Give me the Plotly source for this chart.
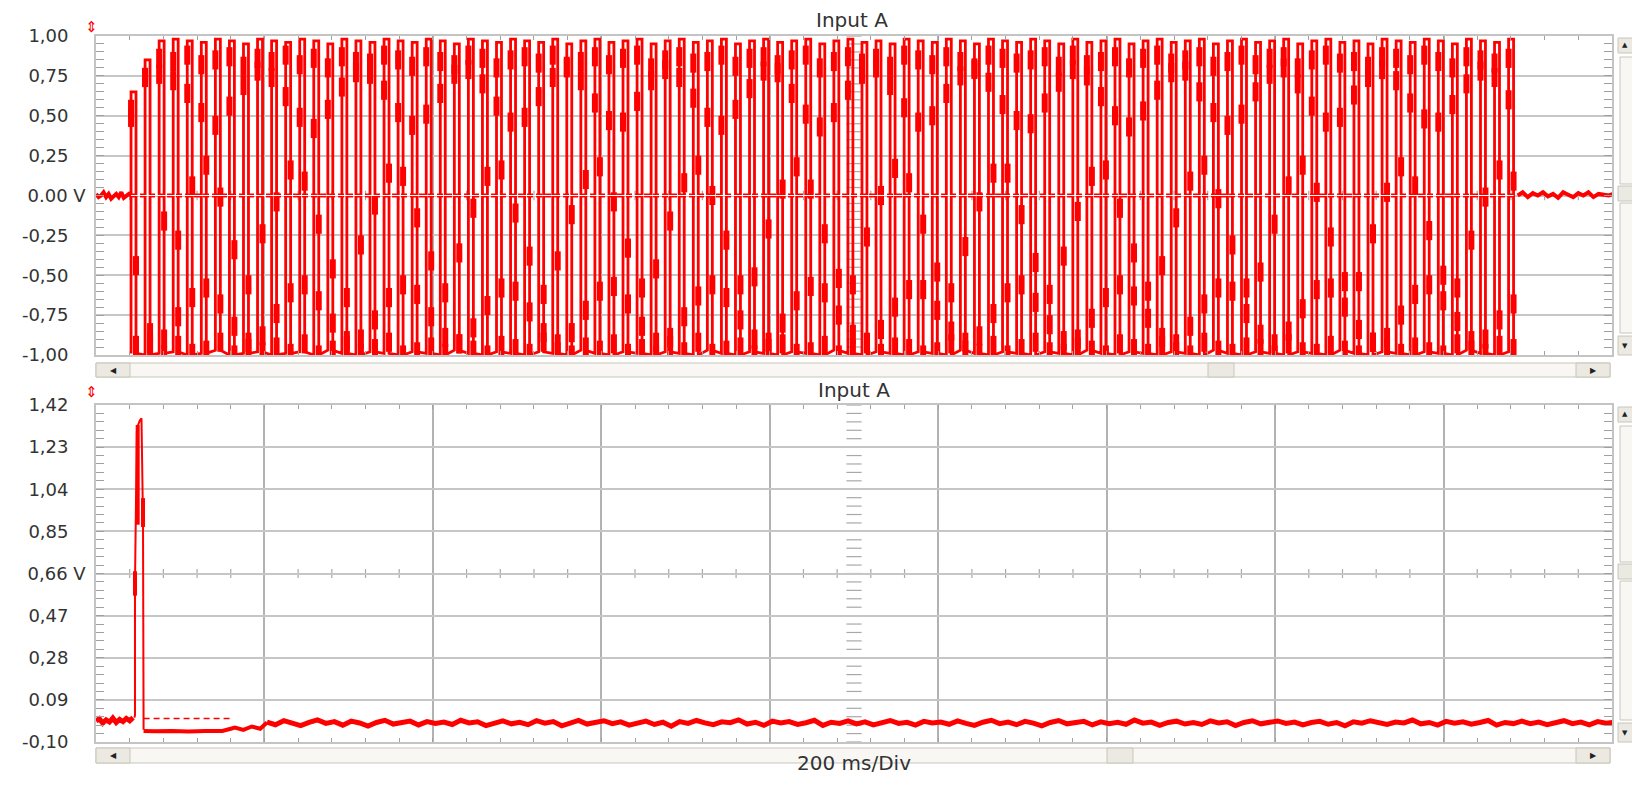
import plotly.graph_objects as go

# ---------------- data ----------------
# Top panel: burst of ~60 Hz cycles, time in ms
T_START = 41.6          # first cycle start (ms)
PERIOD = 16.69          # cycle length (ms)
HI_DWELL = 5.9          # ms between rising and falling edge of a cycle

top_peak = [0.65, 0.85, 0.97, 0.98, 0.97, 0.96, 0.98, 0.97, 0.95, 0.98,
            0.97, 0.96, 0.98, 0.97, 0.95, 0.98, 0.97, 0.96, 0.98, 0.97,
            0.96, 0.98, 0.97, 0.95, 0.98, 0.97, 0.96, 0.98, 0.97, 0.96,
            0.98, 0.95, 0.97, 0.98, 0.96, 0.97, 0.98, 0.95, 0.97, 0.98,
            0.96, 0.97, 0.98, 0.95, 0.97, 0.98, 0.96, 0.97, 0.98, 0.95,
            0.97, 0.98, 0.96, 0.97, 0.95, 0.98, 0.97, 0.96, 0.98, 0.97,
            0.95, 0.98, 0.97, 0.96, 0.98, 0.97, 0.95, 0.98, 0.96, 0.97,
            0.98, 0.95, 0.97, 0.98, 0.96, 0.97, 0.98, 0.95, 0.97, 0.98,
            0.96, 0.97, 0.98, 0.95, 0.97, 0.98, 0.96, 0.97, 0.95, 0.98,
            0.97, 0.96, 0.98, 0.97, 0.95, 0.98, 0.97, 0.96, 0.98]
bot_peak = [-0.99, -1.00, -0.99, -0.98, -1.00, -0.99, -0.97, -1.00, -0.99, -0.98,
            -1.00, -0.99, -0.98, -1.00, -0.97, -0.99, -1.00, -0.98, -0.99, -1.00,
            -0.98, -0.99, -1.00, -0.97, -0.99, -1.00, -0.98, -0.99, -1.00, -0.98,
            -0.99, -1.00, -0.97, -0.99, -1.00, -0.98, -0.99, -1.00, -0.98, -0.99,
            -1.00, -0.97, -0.99, -1.00, -0.98, -0.99, -1.00, -0.98, -0.99, -1.00,
            -0.97, -0.99, -1.00, -0.98, -0.99, -1.00, -0.98, -0.99, -1.00, -0.97,
            -0.99, -1.00, -0.98, -0.99, -1.00, -0.98, -0.99, -1.00, -0.97, -0.99,
            -1.00, -0.98, -0.99, -1.00, -0.98, -0.99, -1.00, -0.97, -0.99, -1.00,
            -0.98, -0.99, -1.00, -0.98, -0.99, -1.00, -0.97, -0.99, -1.00, -0.98,
            -0.99, -1.00, -0.98, -0.99, -1.00, -0.97, -0.99, -1.00, -0.98]
hold_top = [0.60, 0.80, 0.92, 0.90, 0.94, 0.88, 0.91, 0.93, 0.87, 0.92,
            0.90, 0.94, 0.88, 0.92, 0.86, 0.93, 0.90, 0.89, 0.94, 0.91,
            0.87, 0.93, 0.90, 0.88, 0.94, 0.92, 0.86, 0.91, 0.93, 0.89,
            0.94, 0.87, 0.90, 0.93, 0.88, 0.92, 0.94, 0.86, 0.91, 0.93,
            0.89, 0.90, 0.94, 0.87, 0.92, 0.93, 0.88, 0.91, 0.94, 0.86,
            0.90, 0.93, 0.89, 0.92, 0.87, 0.94, 0.91, 0.88, 0.93, 0.90,
            0.86, 0.94, 0.92, 0.89, 0.91, 0.93, 0.87, 0.94, 0.88, 0.90,
            0.93, 0.86, 0.92, 0.94, 0.89, 0.91, 0.93, 0.87, 0.90, 0.94,
            0.88, 0.92, 0.93, 0.86, 0.91, 0.94, 0.89, 0.90, 0.87, 0.93,
            0.92, 0.88, 0.94, 0.90, 0.86, 0.93, 0.91, 0.89, 0.92]
hold_rise = [0.55, 0.80, 0.82, 0.78, 0.70, 0.58, 0.50, 0.62, 0.75, 0.84,
             0.80, 0.68, 0.55, 0.48, 0.60, 0.74, 0.83, 0.82, 0.72, 0.58,
             0.50, 0.57, 0.70, 0.82, 0.85, 0.76, 0.62, 0.52, 0.55, 0.68,
             0.80, 0.86, 0.78, 0.64, 0.53, 0.52, 0.65, 0.78, 0.85, 0.80,
             0.67, 0.55, 0.50, 0.60, 0.73, 0.84, 0.83, 0.70, 0.57, 0.49,
             0.58, 0.72, 0.82, 0.86, 0.75, 0.61, 0.52, 0.56, 0.70, 0.81,
             0.85, 0.77, 0.63, 0.53, 0.51, 0.64, 0.77, 0.85, 0.81, 0.68,
             0.56, 0.49, 0.59, 0.72, 0.83, 0.84, 0.71, 0.58, 0.50, 0.57,
             0.71, 0.82, 0.86, 0.76, 0.62, 0.52, 0.55, 0.69, 0.80, 0.85,
             0.78, 0.64, 0.54, 0.52, 0.63, 0.76, 0.84, 0.80, 0.66]
hold_fall = [-0.38, -0.80, -0.10, -0.22, 0.12, 0.25, 0.05, -0.28, -0.50, -0.18,
             0.02, 0.22, 0.15, -0.12, -0.40, -0.58, -0.25, 0.00, 0.20, 0.18,
             -0.08, -0.35, -0.55, -0.30, -0.02, 0.18, 0.22, -0.05, -0.32, -0.56,
             -0.35, -0.06, 0.16, 0.24, 0.02, -0.27, -0.52, -0.40, -0.10, 0.14,
             0.25, 0.06, -0.22, -0.50, -0.45, -0.15, 0.10, 0.24, 0.10, -0.18,
             -0.46, -0.50, -0.20, 0.06, 0.23, 0.14, -0.12, -0.42, -0.55, -0.26,
             0.02, 0.20, 0.20, -0.06, -0.36, -0.56, -0.32, -0.04, 0.18, 0.22,
             -0.02, -0.30, -0.54, -0.38, -0.08, 0.15, 0.25, 0.04, -0.25, -0.52,
             -0.42, -0.12, 0.12, 0.25, 0.08, -0.20, -0.48, -0.48, -0.18, 0.08,
             0.24, 0.12, -0.16, -0.44, -0.52, -0.22, 0.05, 0.22, 0.15]
hold_low = [-0.88, -0.86, -0.84, -0.70, -0.58, -0.52, -0.62, -0.76, -0.86, -0.82,
            -0.68, -0.55, -0.50, -0.60, -0.74, -0.85, -0.84, -0.72, -0.58, -0.50,
            -0.56, -0.70, -0.83, -0.87, -0.77, -0.63, -0.52, -0.54, -0.67, -0.80,
            -0.87, -0.80, -0.66, -0.54, -0.51, -0.62, -0.76, -0.86, -0.83, -0.70,
            -0.57, -0.50, -0.58, -0.72, -0.84, -0.86, -0.74, -0.60, -0.51, -0.55,
            -0.69, -0.81, -0.87, -0.78, -0.64, -0.53, -0.53, -0.66, -0.79, -0.86,
            -0.82, -0.68, -0.55, -0.50, -0.61, -0.75, -0.85, -0.84, -0.71, -0.58,
            -0.50, -0.57, -0.71, -0.83, -0.87, -0.76, -0.62, -0.52, -0.54, -0.68,
            -0.81, -0.87, -0.79, -0.65, -0.53, -0.52, -0.64, -0.78, -0.86, -0.83,
            -0.69, -0.56, -0.50, -0.60, -0.73, -0.85, -0.84, -0.72, -0.62]
hold_bot = [-0.92, -0.90, -0.94, -0.88, -0.93, -0.91, -0.86, -0.94, -0.90, -0.92,
            -0.89, -0.93, -0.87, -0.94, -0.91, -0.88, -0.93, -0.90, -0.86, -0.94,
            -0.92, -0.89, -0.93, -0.87, -0.91, -0.94, -0.88, -0.90, -0.93, -0.86,
            -0.92, -0.94, -0.89, -0.91, -0.87, -0.93, -0.90, -0.94, -0.88, -0.92,
            -0.86, -0.93, -0.91, -0.89, -0.94, -0.90, -0.87, -0.93, -0.92, -0.88,
            -0.94, -0.91, -0.86, -0.93, -0.89, -0.90, -0.94, -0.92, -0.87, -0.91,
            -0.93, -0.88, -0.94, -0.90, -0.86, -0.92, -0.93, -0.89, -0.91, -0.94,
            -0.87, -0.90, -0.93, -0.88, -0.92, -0.94, -0.86, -0.91, -0.93, -0.89,
            -0.90, -0.94, -0.87, -0.92, -0.93, -0.88, -0.91, -0.94, -0.86, -0.90,
            -0.93, -0.89, -0.92, -0.94, -0.87, -0.91, -0.93, -0.88, -0.90]

top_pre_step = 3.0
top_pre_v = [0.01, -0.01, 0.0, 0.02, -0.01, 0.01, -0.02, 0.0, 0.01, -0.01, 0.02, -0.015, -0.005, 0.01, 0.0]
top_post_start = 1688.0
top_post_step = 6.0
top_post_v = [0.0, 0.02, -0.01, 0.015, 0.0, 0.02, -0.005, 0.01, -0.015, 0.02,
              0.005, -0.01, 0.015, 0.0, 0.02, -0.01, 0.01, 0.005, 0.0, 0.01]

# Bottom panel
bot_pre_step = 4.0
bot_pre_v = [-0.005, 0.005, -0.015, 0.0, -0.01, 0.008, -0.012, 0.002, -0.008, 0.006, -0.004, 0.01]
spike_t = [45.5, 46.3, 46.3, 48.5, 50.0, 52.0, 54.0, 55.8, 55.8, 56.5]
spike_v = [0.01, 0.02, 0.62, 1.30, 1.33, 1.35, 1.36, 1.00, 0.90, -0.045]
spike_hold_t = [46.3, 49.5, 55.8]
spike_hold_lo = [0.56, 0.88, 0.87]
spike_hold_hi = [0.67, 1.33, 1.00]
low_t = [56.5, 70, 90, 110, 130, 150, 160, 165, 175, 185, 195, 203]
low_v = [-0.05, -0.052, -0.05, -0.053, -0.05, -0.05, -0.04, -0.035, -0.045, -0.03, -0.04, -0.012]
ref_t = [56.5, 160.0]
ref_v = [0.006, 0.006]
band_start = 203.0
band_step = 10.0
band_v = [-0.010, -0.022, -0.004, -0.015, -0.026, -0.012, 0.000, -0.016, -0.008, -0.024,
          -0.006, -0.014, -0.028, -0.012, -0.002, -0.019, -0.013, -0.006, -0.023, -0.008,
          -0.016, -0.010, -0.021, -0.002, -0.014, -0.009, -0.026, -0.013, -0.005, -0.018,
          -0.011, -0.022, -0.004, -0.015, -0.008, -0.027, -0.013, -0.003, -0.019, -0.012,
          -0.004, -0.017, -0.009, -0.024, -0.013, -0.006, -0.021, -0.011, -0.029, -0.008,
          -0.016, -0.003, -0.014, -0.022, -0.009, -0.013, 0.000, -0.019, -0.011, -0.025,
          -0.006, -0.014, -0.008, -0.021, -0.013, -0.002, -0.025, -0.011, -0.016, -0.005,
          -0.018, -0.009, -0.023, -0.013, -0.003, -0.016, -0.011, -0.024, -0.007, -0.014,
          -0.010, -0.020, -0.005, -0.016, -0.025, -0.011, -0.002, -0.017, -0.010, -0.022,
          -0.007, -0.015, -0.027, -0.012, -0.003, -0.018, -0.012, -0.007, -0.023, -0.009,
          -0.017, -0.011, -0.020, -0.001, -0.015, -0.010, -0.025, -0.012, -0.006, -0.019,
          -0.012, -0.021, -0.005, -0.014, -0.009, -0.026, -0.012, -0.004, -0.018, -0.013,
          -0.005, -0.016, -0.010, -0.023, -0.012, -0.007, -0.020, -0.012, -0.027, -0.009,
          -0.015, -0.004, -0.013, -0.021, -0.010, -0.014, -0.001, -0.018, -0.012, -0.024,
          -0.007, -0.015, -0.009, -0.020, -0.012, -0.003, -0.024, -0.012, -0.017, -0.006,
          -0.017, -0.010, -0.022, -0.012, -0.004, -0.017, -0.010, -0.023, -0.008, -0.015,
          -0.011]

top_ticks = [-1.0, -0.75, -0.5, -0.25, 0.0, 0.25, 0.5, 0.75, 1.0]
top_labels = ["-1,00", "-0,75", "-0,50", "-0,25", "0.00 V", "0,25", "0,50", "0,75", "1,00"]
bot_ticks = [-0.10, 0.09, 0.28, 0.47, 0.66, 0.85, 1.04, 1.23, 1.42]
bot_labels = ["-0,10", "0.09", "0,28", "0,47", "0,66 V", "0,85", "1,04", "1,23", "1,42"]

# ---------------- geometry helpers ----------------
W, H, OFF = 1624, 769, 8
def px(x):
    return (x - OFF) / W
def py(y):
    return 1 - (y - OFF) / H

RED = "#ff0000"
XGRID = "#b2b2b2"
YGRID = "#c6c6c6"
FONT = "DejaVu Sans"
PAD = "\u00a0\u00a0\u00a0"

fig = go.Figure()

# ---- top panel traces ----
fig.add_trace(go.Scatter(x=[i * top_pre_step for i in range(len(top_pre_v))], y=top_pre_v,
                         mode="lines", line=dict(color=RED, width=4), xaxis="x", yaxis="y"))
bx, by = [], []
for k in range(len(top_peak)):
    t0 = T_START + k * PERIOD
    bx += [t0, t0, t0 + HI_DWELL, t0 + HI_DWELL]
    by += [bot_peak[k], top_peak[k], top_peak[k], bot_peak[k]]
fig.add_trace(go.Scatter(x=bx, y=by, mode="lines", line=dict(color=RED, width=2.8),
                         xaxis="x", yaxis="y"))
hx, hy = [], []
for k in range(len(top_peak)):
    t0 = T_START + k * PERIOD
    t1 = t0 + HI_DWELL
    for t, h in ((t0, hold_top[k]), (t0, hold_rise[k]), (t1, hold_fall[k]),
                 (t1, hold_low[k]), (t1, hold_bot[k])):
        hx += [t, t, None]
        hy += [h - 0.12, h, None]
fig.add_trace(go.Scatter(x=hx, y=hy, mode="lines", line=dict(color=RED, width=6),
                         xaxis="x", yaxis="y"))
fig.add_trace(go.Scatter(x=[top_post_start + i * top_post_step for i in range(len(top_post_v))],
                         y=top_post_v, mode="lines", line=dict(color=RED, width=4),
                         xaxis="x", yaxis="y"))
burst_end = T_START + (len(top_peak) - 1) * PERIOD + HI_DWELL
fig.add_trace(go.Scatter(x=[T_START, burst_end], y=[0, 0], mode="lines",
                         line=dict(color=RED, width=4, dash="6px,3px"), xaxis="x", yaxis="y"))
fig.add_trace(go.Scatter(x=[T_START, burst_end], y=[0, 0], mode="lines",
                         line=dict(color="white", width=1.2), xaxis="x", yaxis="y"))

# ---- bottom panel traces ----
fig.add_trace(go.Scatter(x=[i * bot_pre_step for i in range(len(bot_pre_v))], y=bot_pre_v,
                         mode="lines", line=dict(color=RED, width=5), xaxis="x2", yaxis="y2"))
fig.add_trace(go.Scatter(x=spike_t, y=spike_v, mode="lines", line=dict(color=RED, width=2),
                         xaxis="x2", yaxis="y2"))
shx, shy = [], []
for t, lo, hi in zip(spike_hold_t, spike_hold_lo, spike_hold_hi):
    shx += [t, t, None]
    shy += [lo, hi, None]
fig.add_trace(go.Scatter(x=shx, y=shy, mode="lines", line=dict(color=RED, width=4),
                         xaxis="x2", yaxis="y2"))
fig.add_trace(go.Scatter(x=low_t, y=low_v, mode="lines", line=dict(color=RED, width=4),
                         xaxis="x2", yaxis="y2"))
fig.add_trace(go.Scatter(x=ref_t, y=ref_v, mode="lines", line=dict(color=RED, width=1.5, dash="6px,4px"),
                         xaxis="x2", yaxis="y2"))
fig.add_trace(go.Scatter(x=[band_start + i * band_step for i in range(len(band_v))], y=band_v,
                         mode="lines", line=dict(color=RED, width=5), xaxis="x2", yaxis="y2"))

# ---- axes ----
def xax(anchor, domain):
    return dict(domain=domain, anchor=anchor, range=[0, 1800], tick0=0, dtick=200,
                showticklabels=False, showgrid=True, gridcolor=XGRID, gridwidth=2,
                zeroline=False, showline=True, linecolor="#c4c4c4", linewidth=1.5,
                mirror="allticks", ticks="inside", ticklen=4, tickcolor="#a0a0a0",
                automargin=False,
                minor=dict(tickmode="linear", tick0=0, dtick=40, ticks="inside", ticklen=4,
                           tickcolor="#a0a0a0", showgrid=False))

def yax(anchor, domain, rng, tv, tt, minor_tick0, minor_dtick):
    return dict(domain=domain, anchor=anchor, range=rng, tickmode="array", tickvals=tv,
                ticktext=[t if t.endswith("V") else t + PAD for t in tt],
                tickfont=dict(family=FONT, size=18, color="#333333"),
                showgrid=True, gridcolor=YGRID, gridwidth=1.5, zeroline=False,
                showline=True, linecolor="#c4c4c4", linewidth=1.5, mirror="allticks",
                ticks="inside", ticklen=8, tickcolor="#a0a0a0", ticklabelstandoff=5,
                automargin=False,
                minor=dict(tickmode="linear", tick0=minor_tick0, dtick=minor_dtick, ticks="inside",
                           ticklen=8, tickcolor="#a0a0a0", showgrid=False))

fig.update_layout(
    width=W, height=H, margin=dict(l=0, r=0, t=0, b=0, autoexpand=False),
    paper_bgcolor="white", plot_bgcolor="white", showlegend=False,
    xaxis=xax("y", [px(96), px(1612)]),
    yaxis=yax("x", [py(355), py(36)], [-1, 1], top_ticks, top_labels, -1.0, 0.05),
    xaxis2=xax("y2", [px(96), px(1612)]),
    yaxis2=yax("x2", [py(742), py(405)], [-0.10, 1.42], bot_ticks, bot_labels, -0.10, 0.038),
)

# ---- decorations: centre graticule ticks ----
shapes = []
def centre_marks(xref, yref, y0, y1, ystep, ycentre, yhalf):
    n = int(round((y1 - y0) / ystep))
    for i in range(n + 1):
        y = y0 + i * ystep
        shapes.append(dict(type="line", xref=xref, yref=yref, x0=891, x1=909, y0=y, y1=y,
                           line=dict(color="#a8a8a8", width=1.2), layer="below"))
    for j in range(1, 45):
        x = j * 40
        shapes.append(dict(type="line", xref=xref, yref=yref, x0=x, x1=x,
                           y0=ycentre - yhalf, y1=ycentre + yhalf,
                           line=dict(color="#a8a8a8", width=1.2), layer="below"))
centre_marks("x", "y", -1.0, 1.0, 0.05, 0.0, 0.03)
centre_marks("x2", "y2", -0.10, 1.42, 0.038, 0.66, 0.02)

# ---- decorations: scrollbars ----
SB_BG, SB_LINE, SB_BTN = "#f8f7f3", "#c8c6ba", "#ebe9e1"
def rect(x0, x1, y0, y1, fill, line=SB_LINE):
    shapes.append(dict(type="rect", xref="paper", yref="paper", x0=px(x0), x1=px(x1),
                       y0=py(y1), y1=py(y0), fillcolor=fill, line=dict(color=line, width=1)))
annots = []
def label(x, y, text, size, color="#333", **kw):
    d = dict(xref="paper", yref="paper", x=px(x), y=py(y), text=text, showarrow=False,
             xanchor="center", yanchor="middle", font=dict(family=FONT, size=size, color=color))
    d.update(kw)
    annots.append(d)

for (y0, y1, thumb) in ((363, 377, 1208), (748, 763, 1107)):
    rect(96, 1610, y0, y1, SB_BG)
    rect(96, 130, y0, y1, SB_BTN)
    rect(thumb, thumb + 26, y0, y1, SB_BTN)
    rect(1576, 1610, y0, y1, SB_BTN)
    label(113, (y0 + y1) / 2, "◀", 8, "#222")
    label(1593, (y0 + y1) / 2, "▶", 8, "#222")

for (top, bot, mid) in ((38, 355, 186), (407, 742, 564)):
    rect(1618, 1640, top, top + 15, SB_BTN)
    rect(1620, 1640, top + 19, mid - 2, SB_BG)
    rect(1618, 1640, mid, mid + 15, SB_BTN)
    rect(1620, 1640, mid + 17, bot - 22, SB_BG)
    rect(1618, 1640, bot - 19, bot, SB_BTN)
    label(1625, top + 7, "▲", 7, "#222")
    label(1625, bot - 9, "▼", 7, "#222")

# ---- titles and labels ----
label(852, 20, "Input A", 20)
label(854, 390, "Input A", 20)
annots.append(dict(xref="paper", yref="paper", x=px(854), y=0, xanchor="center", yanchor="bottom",
                   text="200 ms/Div", showarrow=False,
                   font=dict(family=FONT, size=20, color="#333")))
for yy in (27, 392):
    label(91, yy, "⇕", 15, RED)

fig.update_layout(shapes=shapes, annotations=annots)
fig.write_html("out.html")
